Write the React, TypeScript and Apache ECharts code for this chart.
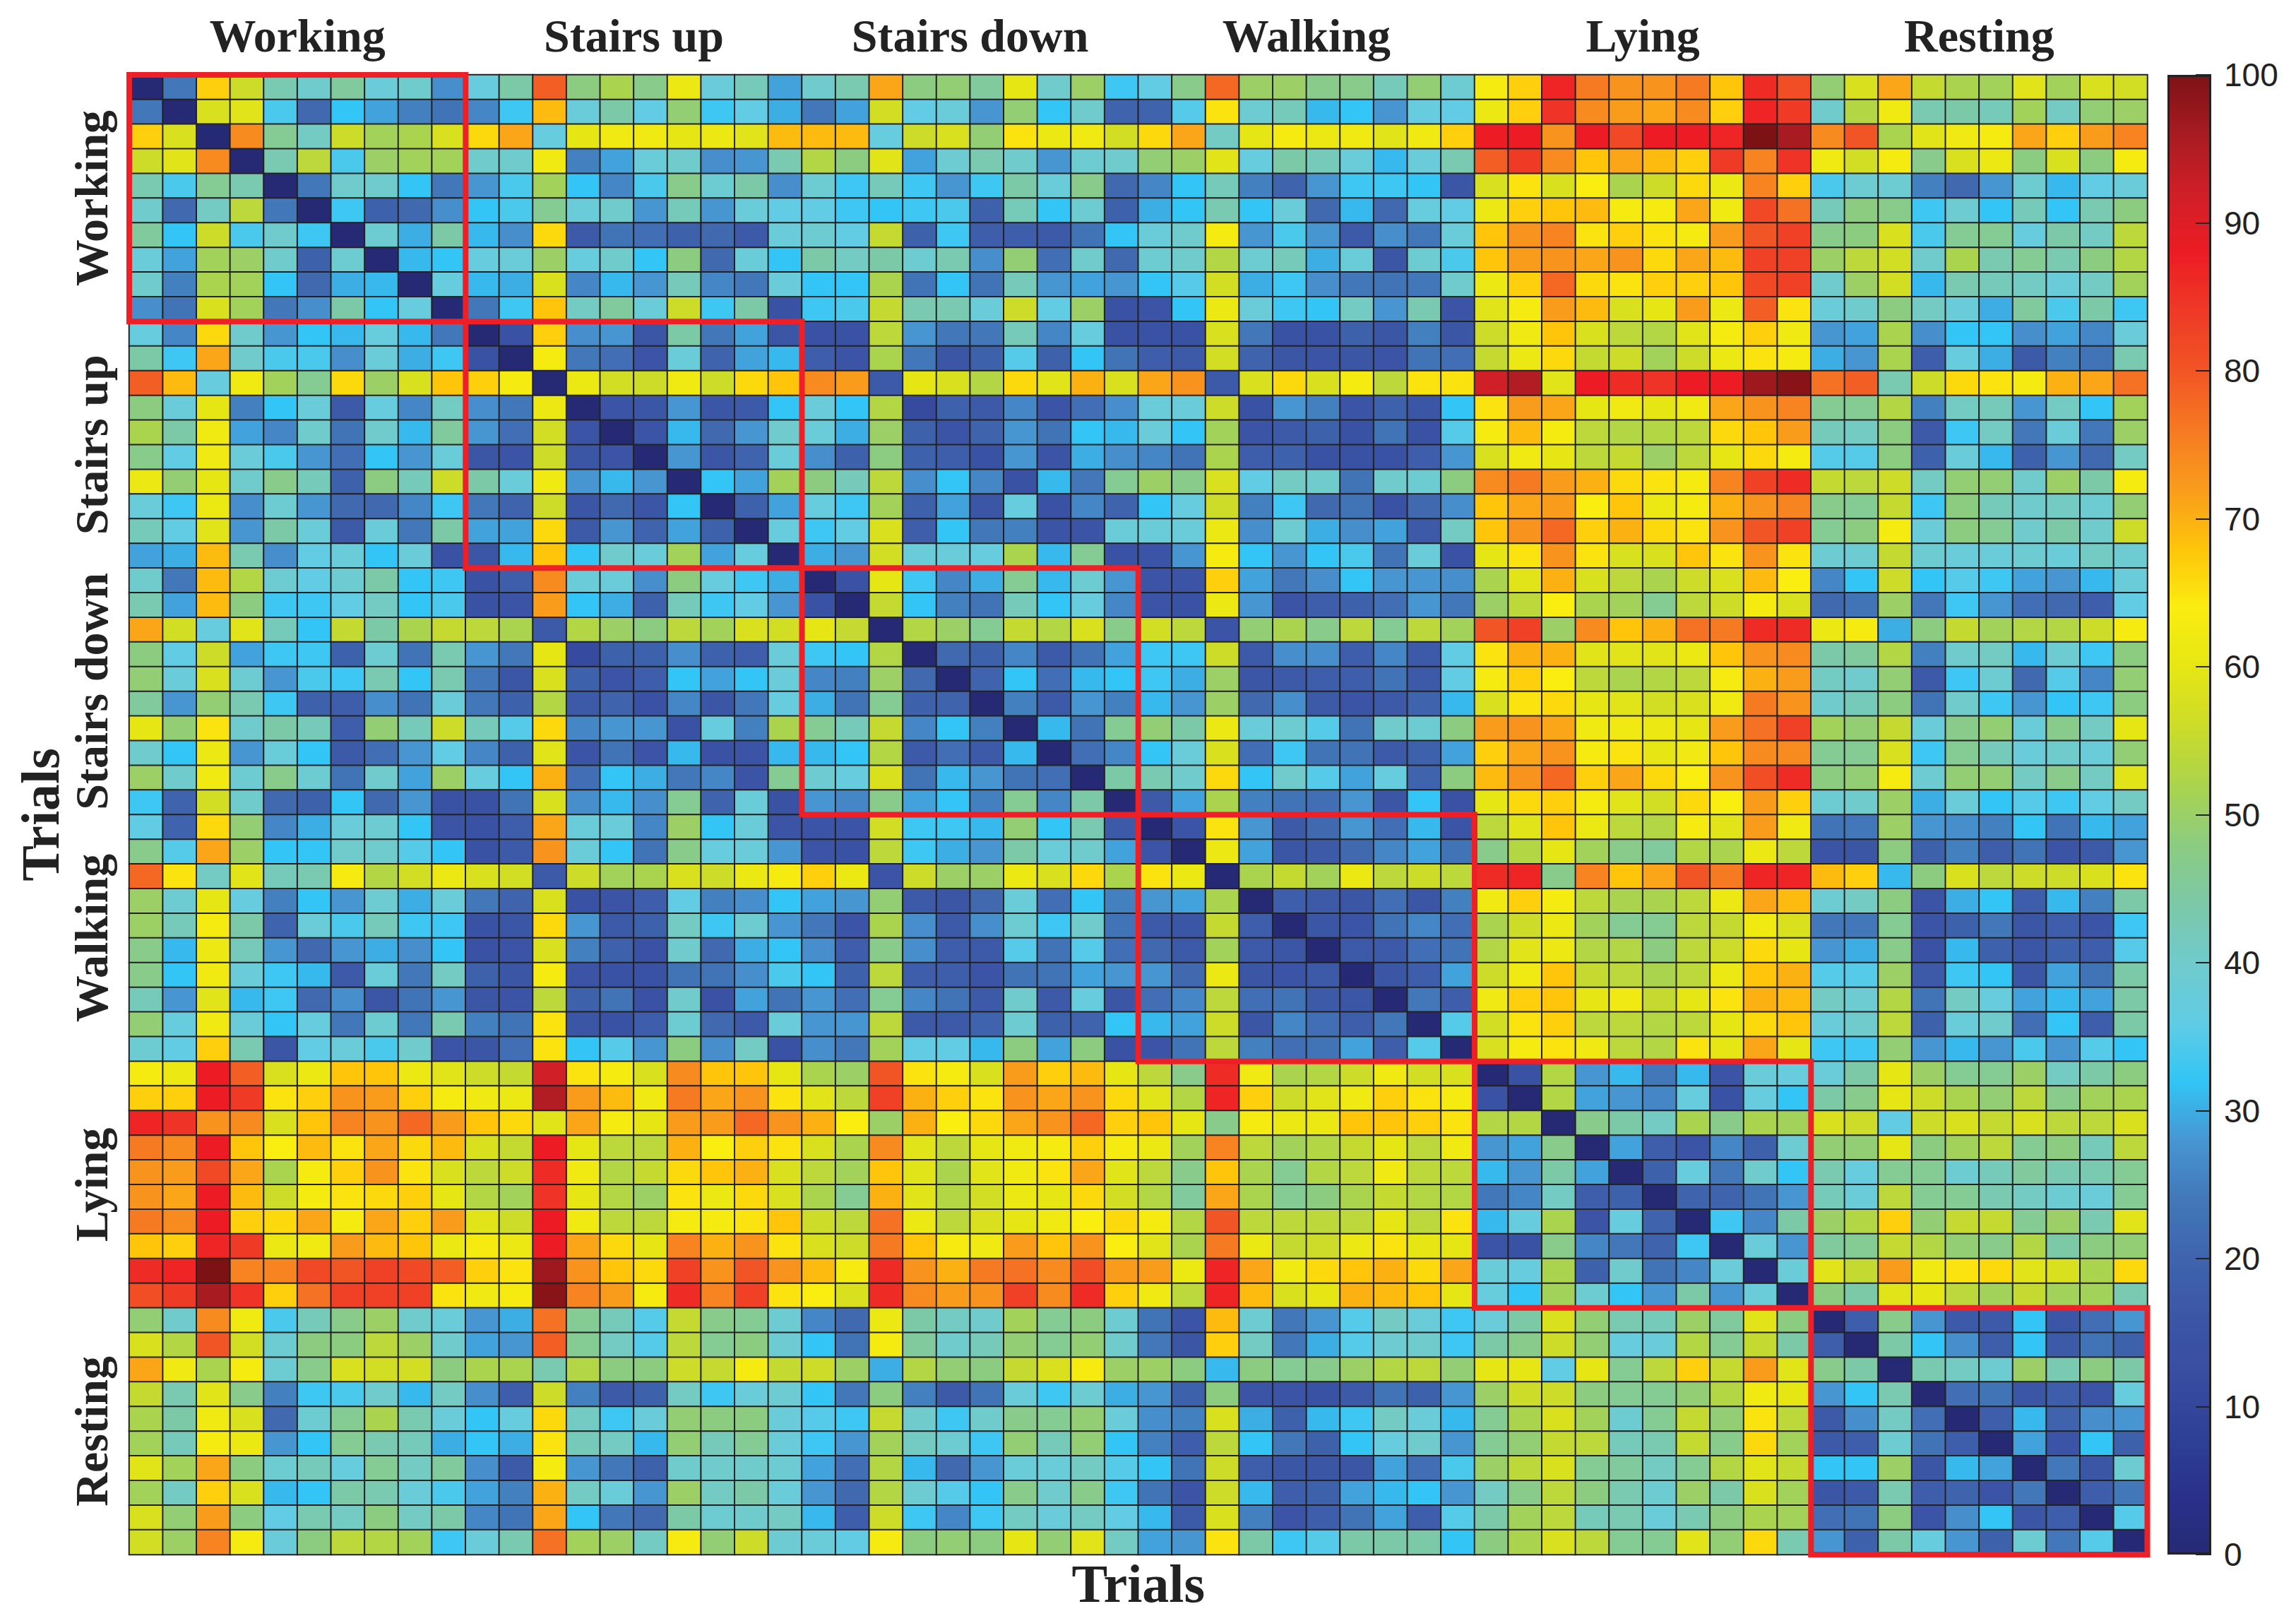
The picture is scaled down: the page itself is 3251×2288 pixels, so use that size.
import React, { useEffect, useRef } from "react";
import * as echarts from "echarts";

const activities = ["Working", "Stairs up", "Stairs down", "Walking", "Lying", "Resting"];
const blockRanges = [[0, 9], [10, 19], [20, 29], [30, 39], [40, 49], [50, 59]];
const colorbarTicks = [0, 100];

// Upper triangle of the symmetric matrix: each row starts at its diagonal cell.
const upperRows: number[][] = [
  [0,24,67,56,43,40,45,38,40,27,37,44,79,48,52,47,61,38,42,29,40,43,71,48,49,45,60,40,50,33,36,47,78,50,50,47,47,42,49,39,63,67,87,76,73,73,76,68,86,81,49,58,71,55,52,51,59,51,58,57],
  [0,58,59,34,21,32,29,25,23,26,33,69,38,44,36,49,33,36,30,24,29,57,36,38,28,49,32,40,20,20,35,65,39,42,31,32,28,37,36,61,67,85,74,72,71,74,67,87,84,40,53,62,43,44,42,51,41,49,50],
  [0,74,46,41,56,51,52,58,66,71,37,60,62,62,60,61,59,69,69,69,37,56,58,49,65,61,62,57,66,71,41,60,63,61,62,59,62,67,88,88,73,88,82,88,88,87,100,96,74,80,52,59,62,63,71,67,72,75],
  [0,43,54,34,50,51,51,40,40,62,25,29,38,40,27,28,43,53,48,59,29,39,43,40,28,39,40,49,50,59,37,44,42,38,31,38,43,79,84,74,68,71,69,67,84,75,85,62,57,63,47,58,61,48,58,48,63],
  [0,24,40,40,32,24,28,34,51,32,26,34,47,39,44,27,39,33,42,33,28,33,44,38,47,21,26,32,42,25,20,28,33,33,32,16,58,65,58,64,52,56,66,61,75,67,34,39,39,25,21,28,39,31,36,38],
  [0,33,19,21,27,32,34,46,38,40,28,42,28,38,36,36,33,32,33,34,19,42,32,39,19,30,32,43,32,38,21,31,21,37,36,61,67,68,69,63,63,71,62,82,77,42,48,47,33,39,32,42,32,43,48],
  [0,39,30,44,31,27,66,17,23,22,19,21,17,38,39,36,55,19,33,18,18,17,23,32,38,40,63,28,34,28,17,27,24,38,68,73,75,65,67,65,63,72,80,83,47,48,58,34,46,46,37,44,41,54],
  [0,31,32,37,38,50,37,40,32,48,21,38,32,44,41,44,39,43,27,49,22,40,21,39,40,53,39,42,30,38,16,39,34,68,72,73,71,73,66,71,69,83,83,50,54,57,40,52,43,46,43,48,53],
  [0,37,31,30,58,26,31,28,42,26,24,38,32,32,52,23,32,23,42,28,29,28,32,35,57,30,33,27,24,23,24,40,61,67,78,66,65,67,67,68,82,83,40,50,57,31,43,42,41,38,41,51],
  [0,24,33,68,41,45,38,56,33,44,14,33,34,55,43,43,38,56,36,50,14,15,32,61,38,33,32,41,28,43,15,59,63,72,69,58,60,72,61,79,65,38,40,48,41,38,30,45,34,44,33],
  [0,14,67,27,28,16,44,24,29,16,14,14,54,28,24,24,42,26,37,14,14,14,58,24,14,14,19,16,25,16,56,62,68,58,54,53,59,63,67,62,28,29,52,27,32,32,27,29,26,38],
  [0,63,24,22,15,38,20,29,31,18,15,52,24,16,19,35,19,32,23,18,17,57,20,16,15,16,15,23,22,55,61,66,55,56,51,56,61,65,63,30,28,52,18,37,30,17,25,23,43],
  [0,61,57,56,62,56,66,68,74,72,17,60,58,53,66,59,70,58,71,73,17,58,66,58,63,54,65,65,92,95,59,88,86,85,88,88,97,99,77,79,43,56,66,65,63,70,71,77],
  [0,15,16,28,16,17,32,38,32,53,11,19,17,26,15,22,27,38,38,56,14,28,25,15,19,16,32,65,72,71,60,62,60,62,71,73,75,46,46,53,25,41,42,28,41,32,51],
  [0,15,31,21,28,40,38,30,50,19,15,20,28,23,32,31,38,32,51,15,17,19,14,23,14,35,63,69,63,54,53,53,54,66,68,72,42,41,48,17,33,41,24,38,24,50],
  [0,28,16,20,38,27,19,48,19,18,14,28,15,30,27,26,23,52,18,19,14,14,14,18,28,58,62,60,54,55,50,54,60,66,63,35,35,48,19,38,31,19,28,21,41],
  [0,32,29,51,48,42,54,27,32,26,14,31,24,46,50,47,58,36,41,40,23,40,39,48,74,76,72,70,66,65,63,75,83,86,55,54,56,41,49,49,40,50,44,63],
  [0,19,29,37,33,51,19,29,16,37,14,26,20,32,37,56,25,33,21,23,14,21,27,68,71,72,64,68,61,63,70,73,75,47,46,55,33,48,42,40,41,39,49],
  [0,37,33,36,58,18,32,24,25,15,15,38,38,38,61,27,39,30,27,29,17,41,68,73,78,67,70,66,65,73,80,83,46,48,63,38,48,46,40,44,40,56],
  [0,30,28,57,38,38,37,52,31,46,14,15,28,63,32,28,32,34,23,38,14,60,65,73,65,58,58,68,65,73,65,39,39,55,39,38,38,39,38,41,39],
  [0,14,60,33,26,30,46,31,39,28,15,15,67,29,24,27,32,28,28,27,52,59,70,58,54,52,56,58,69,64,26,32,56,32,35,33,29,28,31,38],
  [0,55,32,25,23,42,32,37,26,15,14,61,28,15,18,19,22,28,24,50,54,64,52,51,46,54,56,63,58,21,23,50,24,33,28,22,21,18,36],
  [0,53,50,46,55,53,58,47,57,54,15,49,52,47,54,46,54,51,80,83,50,74,68,70,77,76,86,86,61,63,30,48,55,51,53,53,56,63],
  [0,21,19,26,17,23,29,33,33,56,17,27,27,18,26,17,36,65,70,70,59,59,59,61,68,73,74,44,45,53,25,40,41,31,39,33,48],
  [0,20,32,22,31,32,33,30,50,16,17,18,18,23,17,36,63,67,64,54,52,53,54,63,70,72,41,40,49,17,33,39,21,35,26,49],
  [0,25,17,28,25,31,28,50,21,27,17,15,17,20,31,58,65,66,60,59,57,58,62,76,73,40,42,48,23,40,33,28,32,33,48],
  [0,31,23,46,49,44,61,38,39,35,23,40,39,48,72,73,71,62,62,61,60,72,77,83,51,49,55,38,47,49,38,47,41,60],
  [0,22,26,32,38,58,22,33,23,23,17,19,29,67,71,73,63,65,60,62,68,74,74,46,46,58,33,46,42,38,40,38,49],
  [0,44,43,40,66,32,40,35,29,37,20,48,69,73,78,67,71,66,64,73,81,86,48,49,63,39,49,49,41,47,41,59],
  [0,17,29,52,25,23,22,28,16,32,14,60,66,67,63,59,57,66,64,72,67,39,40,50,30,38,32,35,33,36,41],
  [0,15,65,28,17,21,28,22,31,15,54,59,68,61,54,53,63,59,72,62,23,24,50,28,27,25,32,23,31,29],
  [0,61,29,16,17,21,26,29,23,47,53,60,51,47,45,53,52,61,54,15,16,48,19,25,18,23,15,17,28],
  [0,52,55,51,61,54,56,54,86,87,47,75,68,71,80,76,87,87,69,67,31,48,58,54,56,56,58,65],
  [0,18,17,16,22,16,25,62,67,63,54,52,52,54,61,71,69,39,41,48,15,30,32,18,31,25,44],
  [0,16,15,23,26,22,52,56,61,51,46,46,54,55,62,58,24,24,46,15,19,24,16,18,15,33],
  [0,17,17,22,23,53,59,61,53,53,48,54,56,66,60,28,30,47,14,31,19,16,19,18,35],
  [0,16,18,29,56,62,68,55,54,52,54,61,68,70,35,35,50,17,33,32,16,29,23,44],
  [0,24,18,62,67,68,60,62,55,60,65,70,69,41,39,53,23,41,37,29,31,29,44],
  [0,35,57,65,67,54,54,53,54,60,66,68,38,40,54,19,38,40,22,32,18,44],
  [0,58,63,65,62,54,53,65,60,71,60,33,33,49,28,31,28,34,28,35,32],
  [0,14,53,28,31,24,31,15,38,37,38,44,60,50,46,46,50,41,44,48],
  [0,53,29,28,26,37,14,37,32,44,47,60,56,52,49,54,47,51,52],
  [0,47,44,41,52,47,52,51,58,56,36,56,58,55,58,54,54,58],
  [0,29,18,15,26,19,39,49,49,60,48,51,54,46,48,42,54],
  [0,19,37,24,40,32,43,37,46,46,39,42,45,43,43,46],
  [0,20,20,23,28,42,38,54,46,46,43,41,39,38,46],
  [0,33,26,44,50,53,67,49,55,55,46,50,43,59],
  [0,38,28,45,46,55,53,49,47,53,44,48,49],
  [0,38,59,55,72,62,65,66,59,58,52,66],
  [0,48,44,59,60,54,51,55,51,51,43],
  [0,18,47,28,17,17,32,16,22,28],
  [0,44,32,27,18,32,17,23,19],
  [0,43,41,39,50,43,48,44],
  [0,22,23,16,18,15,37],
  [0,18,31,20,27,28],
  [0,29,15,32,19],
  [0,24,16,39],
  [0,18,24],
  [0,35],
  [0],
];

// Colour map sampled from the colour bar, one colour every 4 units from 0 to 100.
const colormap = [
  "#262a75", "#29318b", "#2f4097", "#384da0", "#3c56a6", "#3f64ad", "#4278ba",
  "#4796d2", "#32c5f6", "#62cce4", "#70cbcc", "#7cc9a8", "#8ccc80", "#abd44e",
  "#ccdc28", "#e6e614", "#faed10", "#fec50a", "#f99c1c", "#f67a22", "#f25525",
  "#ef3a26", "#ed1c24", "#d01f27", "#a81b21", "#7d1215",
];

const WIDTH = 3251;
const HEIGHT = 2288;
const PLOT = { left: 183, top: 106, width: 2857.5, height: 2095 };
const BAR = { left: 3069, top: 106, width: 62, height: 2095 };
const INK = "#222222";
const RED = "#ee2027";
const SERIF = '"Liberation Serif", serif';

export default function App() {
  const ref = useRef<HTMLDivElement>(null);

  useEffect(() => {
    document.body.style.margin = "0";
    document.body.style.background = "#ffffff";
    const chart = echarts.init(ref.current!, undefined, { renderer: "svg", width: WIDTH, height: HEIGHT });

    const n = upperRows.length;
    const cells: number[][] = [];
    upperRows.forEach((row, i) => {
      row.forEach((v, k) => {
        const j = i + k;
        cells.push([j, i, v]);
        if (j !== i) cells.push([i, j, v]);
      });
    });
    const cats = Array.from({ length: n }, (_, i) => String(i + 1));
    const cellW = PLOT.width / n;
    const cellH = PLOT.height / n;

    const labelStyle = (text: string, fontSize: number) => ({
      text,
      fontFamily: SERIF,
      fontWeight: "bold",
      fontSize,
      fill: INK,
      align: "center",
      verticalAlign: "middle",
    });

    const blockGraphics: any[] = [];
    activities.forEach((name, b) => {
      const mid = (blockRanges[b][0] + blockRanges[b][1] + 1) / 2;
      blockGraphics.push({
        type: "text",
        x: PLOT.left + mid * cellW,
        y: 50,
        style: labelStyle(name, 66),
      });
      blockGraphics.push({
        type: "text",
        x: 129.5,
        y: PLOT.top + mid * cellH,
        rotation: Math.PI / 2,
        style: labelStyle(name, 66),
      });
    });

    // Gradient runs from the top (100) to the bottom (0) of the bar; stops ascend in offset.
    const gradientStops = colormap
      .map((color, i) => ({ offset: 1 - i / (colormap.length - 1), color }))
      .reverse();

    chart.setOption({
      animation: false,
      backgroundColor: "#ffffff",
      grid: [
        { left: PLOT.left, top: PLOT.top, width: PLOT.width, height: PLOT.height },
        { left: BAR.left, top: BAR.top, width: BAR.width, height: BAR.height },
      ],
      xAxis: [
        { type: "category", gridIndex: 0, data: cats, show: false },
        { type: "category", gridIndex: 1, data: ["scale"], show: false },
      ],
      yAxis: [
        { type: "category", gridIndex: 0, data: cats, inverse: true, show: false },
        {
          type: "value",
          gridIndex: 1,
          min: colorbarTicks[0],
          max: colorbarTicks[1],
          interval: 10,
          position: "right",
          z: 6,
          axisLine: { show: false },
          splitLine: { show: false },
          axisTick: { show: true, inside: true, length: 22, lineStyle: { color: INK, width: 2 } },
          axisLabel: {
            show: true,
            margin: 18,
            color: INK,
            fontFamily: '"Liberation Sans", sans-serif',
            fontSize: 46,
          },
        },
      ],
      visualMap: {
        show: false,
        type: "continuous",
        min: 0,
        max: 100,
        seriesIndex: 0,
        inRange: { color: colormap },
      },
      series: [
        {
          type: "heatmap",
          xAxisIndex: 0,
          yAxisIndex: 0,
          data: cells,
          progressive: 0,
          silent: true,
          itemStyle: { borderColor: INK, borderWidth: 2 },
        },
        {
          type: "custom",
          xAxisIndex: 0,
          yAxisIndex: 0,
          silent: true,
          z: 5,
          data: blockRanges,
          renderItem: (_params: any, api: any) => {
            const s = api.value(0);
            const e = api.value(1);
            const a = api.coord([s, s]);
            const c = api.coord([e, e]);
            const size = api.size([1, 1]);
            return {
              type: "rect",
              shape: {
                x: a[0] - size[0] / 2,
                y: a[1] - size[1] / 2,
                width: c[0] - a[0] + size[0],
                height: c[1] - a[1] + size[1],
              },
              style: { fill: "none", stroke: RED, lineWidth: 8 },
            };
          },
        },
        {
          type: "bar",
          xAxisIndex: 1,
          yAxisIndex: 1,
          data: [colorbarTicks[1]],
          barWidth: "100%",
          silent: true,
          itemStyle: {
            color: new echarts.graphic.LinearGradient(0, 0, 0, 1, gradientStops),
            borderColor: INK,
            borderWidth: 3,
          },
        },
      ],
      graphic: [
        ...blockGraphics,
        {
          type: "text",
          x: PLOT.left + PLOT.width / 2,
          y: 2242,
          style: labelStyle("Trials", 76),
        },
        {
          type: "text",
          x: 56.5,
          y: PLOT.top + PLOT.height / 2,
          rotation: Math.PI / 2,
          style: labelStyle("Trials", 76),
        },
      ],
    });

    return () => chart.dispose();
  }, []);

  return <div ref={ref} style={{ width: WIDTH, height: HEIGHT }} />;
}
